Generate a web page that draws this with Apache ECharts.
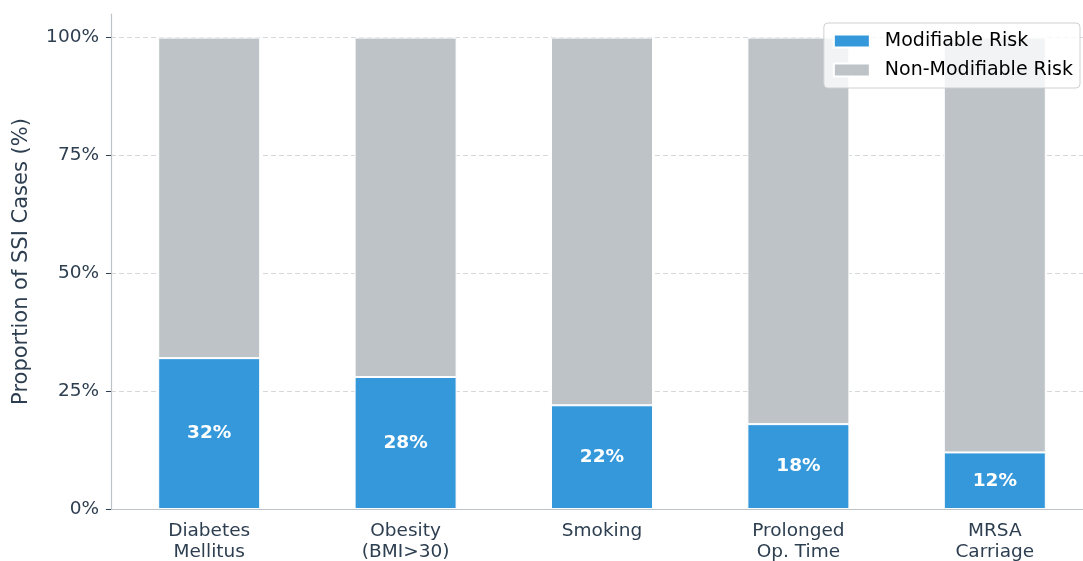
<!DOCTYPE html>
<html>
<head>
<meta charset="utf-8">
<script src="https://cdn.jsdelivr.net/npm/echarts@6/dist/echarts.min.js"></script>
<style>
  html, body { margin: 0; padding: 0; background: #fff; }
  #chart { width: 1083px; height: 561px; }
</style>
</head>
<body>
<div id="chart"></div>
<script>
const categories = ["Diabetes\nMellitus", "Obesity\n(BMI>30)", "Smoking", "Prolonged\nOp. Time", "MRSA\nCarriage"];
const modifiable = [32, 28, 22, 18, 12];
const nonModifiable = [68, 72, 78, 82, 88];
const yTicks = [0, 25, 50, 75, 100];

const textColor = "#2c3e50";
const font = "DejaVu Sans";

const myChart = echarts.init(document.getElementById("chart"));

const option = {
  animation: false,
  textStyle: { fontFamily: font },
  grid: { left: 111, right: -10, top: 14, bottom: 52, outerBoundsMode: "none" },
  legend: {
    orient: "vertical",
    right: 3,
    top: 23,
    padding: [8, 7, 8, 9],
    itemGap: 9,
    itemWidth: 36,
    itemHeight: 13,
    icon: "rect",
    backgroundColor: "rgba(255,255,255,0.8)",
    borderColor: "#d0d0d0",
    borderWidth: 1,
    borderRadius: 4,
    textStyle: { fontFamily: font, fontSize: 19, color: "#000", lineHeight: 20, padding: [0, 0, 0, 10] },
    data: ["Modifiable Risk", "Non-Modifiable Risk"],
  },
  xAxis: {
    type: "category",
    data: categories,
    axisLine: { lineStyle: { color: "#bdc3c7", width: 1.2 } },
    axisTick: { alignWithLabel: true, length: 5, lineStyle: { color: textColor } },
    axisLabel: {
      interval: 0,
      color: textColor,
      fontFamily: font,
      fontSize: 18.5,
      lineHeight: 21,
      margin: 12,
    },
  },
  yAxis: {
    type: "value",
    min: 0,
    max: 105,
    interval: 25,
    name: "Proportion of SSI Cases (%)",
    nameLocation: "middle",
    nameRotate: 90,
    nameGap: 79,
    nameTextStyle: { color: textColor, fontFamily: font, fontSize: 21 },
    axisLine: { show: true, lineStyle: { color: "#bdc3c7", width: 1.2 } },
    axisTick: { show: true, length: 5, customValues: yTicks, lineStyle: { color: textColor } },
    axisLabel: {
      customValues: yTicks,
      formatter: "{value}%",
      color: textColor,
      fontFamily: font,
      fontSize: 18.5,
      margin: 12,
    },
    splitLine: {
      show: true,
      lineStyle: { color: "#d5d8dc", type: [5, 3], width: 1 },
    },
  },
  series: [
    {
      name: "Modifiable Risk",
      type: "bar",
      stack: "total",
      barWidth: 102,
      data: modifiable,
      itemStyle: { color: "#3498db", borderColor: "#fff", borderWidth: 1 },
      label: {
        show: true,
        position: "inside",
        formatter: "{c}%",
        color: "#fff",
        fontWeight: "bold",
        fontFamily: font,
        fontSize: 18.5,
      },
    },
    {
      name: "Non-Modifiable Risk",
      type: "bar",
      stack: "total",
      barWidth: 102,
      data: nonModifiable,
      itemStyle: { color: "#bdc3c7", borderColor: "#fff", borderWidth: 1 },
    },
  ],
};

myChart.setOption(option);
</script>
</body>
</html>
